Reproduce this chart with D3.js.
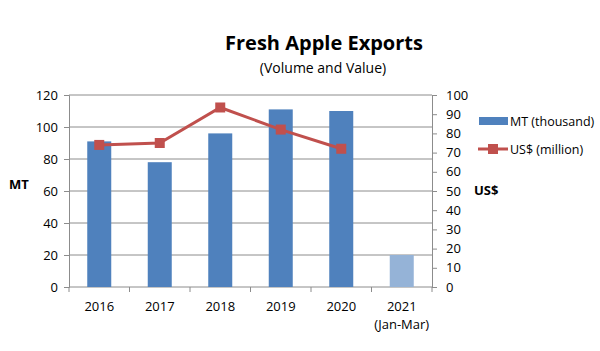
<!DOCTYPE html>
<html>
<head>
<meta charset="utf-8">
<script src="https://cdn.jsdelivr.net/npm/d3@7"></script>
<style>
  body { margin: 0; background: #fff; }
  text { font-family: 'Open Sans', Lato, sans-serif; fill: #000; }
</style>
</head>
<body>
<div id="chart"></div>
<script>
const years = ['2016', '2017', '2018', '2019', '2020', '2021']
const yearNotes = ['', '', '', '', '', '(Jan-Mar)']
const volume = [91, 78, 96, 111, 110, 20]
const value = [74, 75, 93.5, 82, 72]
const leftTicks = [0, 20, 40, 60, 80, 100, 120]
const rightTicks = [0, 10, 20, 30, 40, 50, 60, 70, 80, 90, 100]

let w = 600,
  h = 351,
  margin = [95, 168, 64, 69] // top right bottom left

let plotW = w - margin[1] - margin[3],
  plotH = h - margin[0] - margin[2]

let svg = d3.select('#chart').append('svg').attr('width', w).attr('height', h)

let x = d3.scaleBand().domain(years).range([margin[3], margin[3] + plotW])
let yL = d3.scaleLinear().domain([0, 120]).range([margin[0] + plotH, margin[0]])
let yR = d3.scaleLinear().domain([0, 100]).range([margin[0] + plotH, margin[0]])

const grid = '#8c8c8c'

// gridlines
svg.append('g')
  .selectAll('line')
  .data(leftTicks.slice(1))
  .enter()
  .append('line')
  .attr('x1', margin[3])
  .attr('x2', margin[3] + plotW)
  .attr('y1', d => yL(d))
  .attr('y2', d => yL(d))
  .attr('stroke', grid)
  .attr('stroke-width', 1)

// left axis
let gL = svg.append('g')
  .attr('transform', `translate(${margin[3]},0)`)
  .call(d3.axisLeft(yL).tickValues(leftTicks).tickSize(5).tickPadding(6))
gL.select('.domain').attr('stroke', grid)
gL.selectAll('.tick line').attr('stroke', grid)
gL.selectAll('text').style('font-size', '13px')

// right axis
let gR = svg.append('g')
  .attr('transform', `translate(${margin[3] + plotW},0)`)
  .call(d3.axisRight(yR).tickValues(rightTicks).tickSize(5).tickPadding(9))
gR.select('.domain').attr('stroke', grid)
gR.selectAll('.tick line').attr('stroke', grid)
gR.selectAll('text').style('font-size', '13px')

// x axis
let gX = svg.append('g')
gX.append('line')
  .attr('x1', margin[3]).attr('x2', margin[3] + plotW)
  .attr('y1', yL(0)).attr('y2', yL(0))
  .attr('stroke', grid)
gX.selectAll('.xt')
  .data(d3.range(years.length + 1))
  .enter()
  .append('line')
  .attr('x1', i => margin[3] + i * x.step())
  .attr('x2', i => margin[3] + i * x.step())
  .attr('y1', yL(0)).attr('y2', yL(0) + 5)
  .attr('stroke', grid)
gX.selectAll('.xl')
  .data(years)
  .enter()
  .append('text')
  .attr('x', d => x(d) + x.bandwidth() / 2)
  .attr('y', yL(0) + 24)
  .attr('text-anchor', 'middle')
  .style('font-size', '13px')
  .text(d => d)
gX.selectAll('.xn')
  .data(yearNotes)
  .enter()
  .append('text')
  .attr('x', (d, i) => x(years[i]) + x.bandwidth() / 2)
  .attr('y', yL(0) + 42)
  .attr('text-anchor', 'middle')
  .style('font-size', '13px')
  .text(d => d)

// bars
let barW = 24
svg.append('g')
  .selectAll('rect')
  .data(volume)
  .enter()
  .append('rect')
  .attr('x', (d, i) => x(years[i]) + x.bandwidth() / 2 - barW / 2)
  .attr('y', d => yL(d))
  .attr('width', barW)
  .attr('height', d => yL(0) - yL(d))
  .attr('fill', (d, i) => i === years.length - 1 ? '#95b3d7' : '#4f81bd')

// line
let line = d3.line()
  .x((d, i) => x(years[i]) + x.bandwidth() / 2)
  .y(d => yR(d))
svg.append('path')
  .datum(value)
  .attr('d', line)
  .attr('fill', 'none')
  .attr('stroke', '#c0504d')
  .attr('stroke-width', 3)
svg.append('g')
  .selectAll('rect')
  .data(value)
  .enter()
  .append('rect')
  .attr('x', (d, i) => x(years[i]) + x.bandwidth() / 2 - 5)
  .attr('y', d => yR(d) - 5)
  .attr('width', 10)
  .attr('height', 10)
  .attr('fill', '#c0504d')

// titles
svg.append('text')
  .attr('x', 324).attr('y', 50)
  .attr('text-anchor', 'middle')
  .style('font-size', '20px').style('font-weight', 'bold')
  .text('Fresh Apple Exports')
svg.append('text')
  .attr('x', 323).attr('y', 73)
  .attr('text-anchor', 'middle')
  .style('font-size', '14px')
  .text('(Volume and Value)')

// axis titles
svg.append('text')
  .attr('x', 9).attr('y', 189)
  .style('font-size', '13px').style('font-weight', 'bold')
  .text('MT')
svg.append('text')
  .attr('x', 474).attr('y', 195)
  .style('font-size', '13px').style('font-weight', 'bold')
  .text('US$')

// legend
let lg = svg.append('g')
lg.append('rect')
  .attr('x', 479).attr('y', 117).attr('width', 29).attr('height', 8)
  .attr('fill', '#4f81bd')
lg.append('text')
  .attr('x', 510).attr('y', 126)
  .style('font-size', '12.5px')
  .text('MT (thousand)')
lg.append('line')
  .attr('x1', 478).attr('x2', 508).attr('y1', 149).attr('y2', 149)
  .attr('stroke', '#c0504d').attr('stroke-width', 3)
lg.append('rect')
  .attr('x', 488).attr('y', 144).attr('width', 10).attr('height', 10)
  .attr('fill', '#c0504d')
lg.append('text')
  .attr('x', 510).attr('y', 154)
  .style('font-size', '12.5px')
  .text('US$ (million)')
</script>
</body>
</html>
